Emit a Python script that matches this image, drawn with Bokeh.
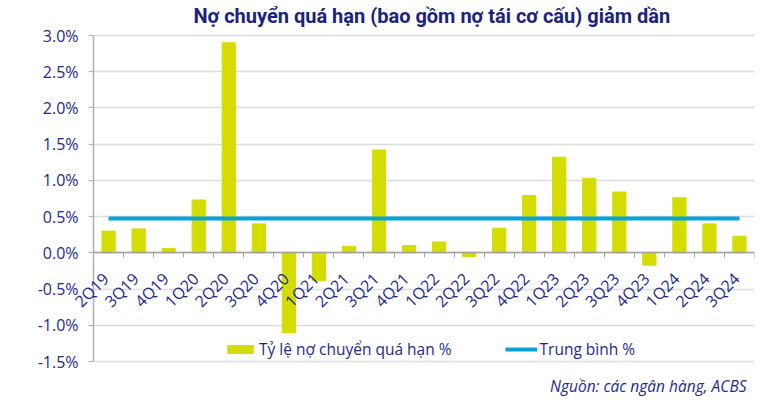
import math
from bokeh.plotting import figure
from bokeh.models import (FixedTicker, PrintfTickFormatter, Legend, LegendItem, Title,
                          ColumnDataSource, LinearAxis, Range1d, Label, Grid)
from bokeh.embed import file_html
from bokeh.resources import INLINE

# ---- data ----
quarters = ["2Q19", "3Q19", "4Q19", "1Q20", "2Q20", "3Q20", "4Q20", "1Q21", "2Q21", "3Q21",
            "4Q21", "1Q22", "2Q22", "3Q22", "4Q22", "1Q23", "2Q23", "3Q23", "4Q23", "1Q24",
            "2Q24", "3Q24"]
overdue_ratio = [0.30, 0.33, 0.06, 0.73, 2.90, 0.40, -1.10, -0.38, 0.09, 1.42,
                 0.10, 0.15, -0.05, 0.34, 0.79, 1.32, 1.03, 0.84, -0.17, 0.76,
                 0.40, 0.23]
average_ratio = 0.475
y_ticks = [-1.5, -1.0, -0.5, 0.0, 0.5, 1.0, 1.5, 2.0, 2.5, 3.0]

title_text = "Nợ chuyển quá hạn (bao gồm nợ tái cơ cấu) giảm dần"
source_text = "Nguồn: các ngân hàng, ACBS"
bar_label = "Tỷ lệ nợ chuyển quá hạn %"
line_label = "Trung bình %"

NAVY = "#1c2a8c"
FONT = "Open Sans"

n = len(quarters)
xs = list(range(n))
src = ColumnDataSource(dict(x=xs, y=overdue_ratio))

# frame is padded so the axis labels drawn inside it are not clipped
LEFT_PAD = 2.1
x_lo, x_hi = -0.5, n - 0.5
y_lo, y_hi = y_ticks[0], y_ticks[-1]
TOP_PAD, BOTTOM_PAD = 0.097, 0.124

p = figure(width=774, height=400, output_backend="svg", toolbar_location=None,
           x_range=Range1d(x_lo - LEFT_PAD, x_hi),
           y_range=Range1d(y_lo - BOTTOM_PAD, y_hi + TOP_PAD),
           min_border_left=30, min_border_right=20, min_border_top=28, min_border_bottom=30,
           x_axis_location=None, y_axis_location=None)
p.outline_line_color = None
p.background_fill_color = "white"
p.grid.visible = False

grid = Grid(dimension=1, ticker=FixedTicker(ticks=y_ticks), cross_bounds=(x_lo, x_hi),
            grid_line_color="#dcdcdc", grid_line_width=1.5)
p.add_layout(grid, "center")

bars = p.vbar(x="x", top="y", bottom=0, width=0.44, source=src,
              fill_color="#d4dc00", line_color="#d4dc00")
avg_line = p.line(x=[xs[0], xs[-1]], y=[average_ratio, average_ratio],
                  line_color="#0aa0d8", line_width=4)

# y axis at the left edge of the category area
yax = LinearAxis(fixed_location=x_lo, bounds=(y_lo, y_hi))
yax.ticker = FixedTicker(ticks=y_ticks)
yax.formatter = PrintfTickFormatter(format="%.1f%%")
yax.major_tick_line_color = "#b0b0b0"
yax.major_tick_out = 5
yax.major_tick_in = 0
yax.minor_tick_line_color = None
yax.axis_line_color = "#b0b0b0"
yax.axis_line_width = 1.5
yax.major_label_text_color = NAVY
yax.major_label_text_font = FONT
yax.major_label_text_font_size = "16px"
yax.major_label_standoff = 10
p.add_layout(yax, "left")

# x axis at zero (line + ticks between categories)
xax = LinearAxis(fixed_location=0, bounds=(x_lo, x_hi))
xax.ticker = FixedTicker(ticks=xs, minor_ticks=[i - 0.5 for i in range(n + 1)])
xax.major_tick_line_color = None
xax.major_tick_out = 0
xax.minor_tick_line_color = "#a0a0a0"
xax.minor_tick_out = 5
xax.minor_tick_in = 0
xax.axis_line_color = "#a0a0a0"
xax.axis_line_width = 1.5
xax.major_label_text_color = None
p.add_layout(xax, "below")

# category labels (rotated) below the zero line
for xi, q in zip(xs, quarters):
    p.add_layout(Label(x=xi, y=0, text=q, angle=math.pi / 4,
                       text_align="right", text_baseline="middle", x_offset=-3, y_offset=-23,
                       text_font=FONT, text_font_size="16px", text_color=NAVY))

legend = Legend(items=[LegendItem(label=bar_label, renderers=[bars]),
                       LegendItem(label=line_label, renderers=[avg_line])],
                orientation="horizontal", location=(194, 10),
                background_fill_alpha=0, border_line_color=None,
                label_text_font=FONT, label_text_font_size="15.5px", label_text_color=NAVY,
                glyph_width=32, glyph_height=10, label_standoff=3, spacing=53,
                padding=0, margin=0)
p.add_layout(legend, "center")

p.title = Title(text=title_text, text_font="Roboto", text_font_size="20px",
                text_font_style="bold", text_color="#1a237e", align="left", offset=163,
                standoff=1)

p.add_layout(Title(text=source_text, text_font=FONT, text_font_size="15.5px",
                   text_font_style="italic", text_color=NAVY, align="right", offset=8,
                   standoff=5), "below")

open("out.html", "w").write(file_html(p, INLINE))
